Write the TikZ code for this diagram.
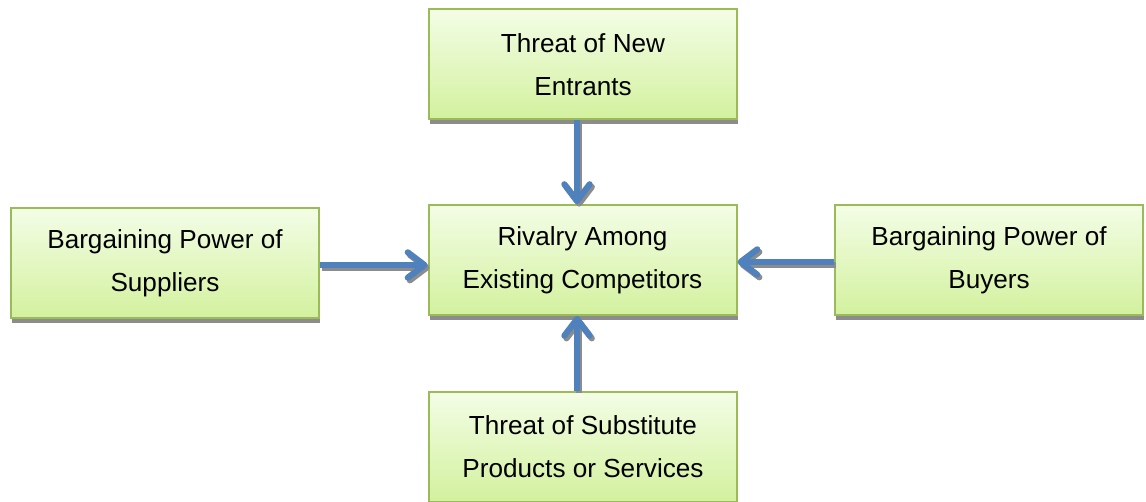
\documentclass[tikz,border=0pt]{standalone}
\usepackage{fontspec}
\setmainfont{Liberation Sans}
\usetikzlibrary{arrows.meta,shadows}
\definecolor{boxborder}{HTML}{9BBB59}
\definecolor{boxtop}{HTML}{F3FDE6}
\definecolor{boxbot}{HTML}{D3F19E}
\definecolor{arrblue}{HTML}{4F81BD}
\definecolor{shadowgray}{HTML}{8C8C8C}
\tikzset{
  force/.style={draw=boxborder, line width=1.5pt, top color=boxtop, bottom color=boxbot,
    minimum width=231pt, minimum height=82.5pt, inner sep=0pt, align=center,
    font=\fontsize{19.6pt}{32.3pt}\selectfont,
    general shadow={fill=shadowgray, shadow xshift=0.9pt, shadow yshift=-3.5pt}},
  arr/.style={draw=arrblue, line width=4.6pt,
    -{Straight Barb[length=12.5pt, width=19pt, round]}},
  arrsh/.style={draw=shadowgray, line width=4.6pt,
    -{Straight Barb[length=12.5pt, width=19pt, round]}},
}
\begin{document}
\begin{tikzpicture}[x=0.75pt, y=-0.75pt]
\useasboundingbox (0,0) rectangle (1146,502);
\node[force] (top) at (583,64.5) {Threat of New\\Entrants};
\node[force] (mid) at (582.5,260) {Rivalry Among\\Existing Competitors};
\node[force] (bot) at (583,446.5) {Threat of Substitute\\Products or Services};
\node[force] (sup) at (165,263.5) {Bargaining Power of\\Suppliers};
\node[force] (buy) at (989,260.5) {Bargaining Power of\\Buyers};
\coordinate (vx) at (577,0);
\coordinate (hyl) at (0,265);
\coordinate (hyr) at (0,262);
% shadows of arrows
\begin{scope}[transform canvas={xshift=1.6pt, yshift=-2pt}]
\draw[arrsh] (top.south -| vx) -- (mid.north -| vx);
\draw[arrsh] (bot.north -| vx) -- (mid.south -| vx);
\draw[arrsh] (sup.east |- hyl) -- (mid.west |- hyl);
\draw[arrsh] (buy.west |- hyr) -- (mid.east |- hyr);
\end{scope}
\draw[arr] (top.south -| vx) -- (mid.north -| vx);
\draw[arr] (bot.north -| vx) -- (mid.south -| vx);
\draw[arr] (sup.east |- hyl) -- (mid.west |- hyl);
\draw[arr] (buy.west |- hyr) -- (mid.east |- hyr);
\end{tikzpicture}
\end{document}
